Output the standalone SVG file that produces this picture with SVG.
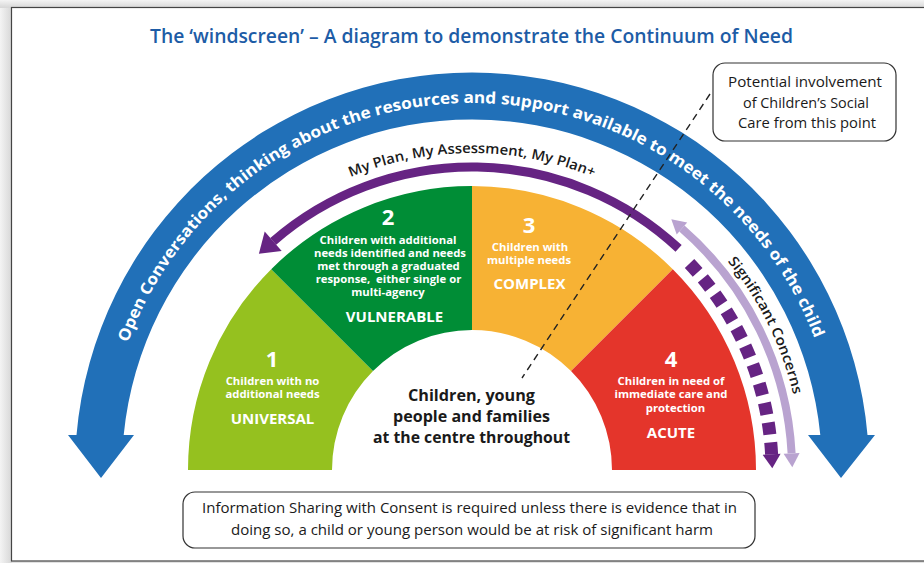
<svg xmlns="http://www.w3.org/2000/svg" width="924" height="563" viewBox="0 0 924 563">
<defs>
<linearGradient id="shL" x1="0" y1="0" x2="1" y2="0"><stop offset="0" stop-color="#f4f4f4"/><stop offset="1" stop-color="#d6d6d6"/></linearGradient>
<linearGradient id="shT" x1="0" y1="0" x2="0" y2="1"><stop offset="0" stop-color="#f4f4f4"/><stop offset="1" stop-color="#d6d6d6"/></linearGradient>
<path id="pBlue" d="M 105 470 A 367 367 0 0 1 839 470"/>
<path id="pPlan" d="M 155 470 A 317 317 0 0 1 789 470"/>
<path id="pSig" d="M 637 184.2 A 330 330 0 0 1 802 470"/>
</defs>
<style>
.w{fill:#fff;font-family:"Open Sans","Liberation Sans",sans-serif;font-weight:700;text-anchor:middle}
.num{font-size:22px}
.d{font-size:11.3px}
.cap{font-size:15px}
.k{fill:#1a1a1a;font-family:"Open Sans","Liberation Sans",sans-serif;text-anchor:middle}
.box{fill:#fff;stroke:#333;stroke-width:1.2}
</style>
<rect x="0" y="0" width="924" height="563" fill="#e2e2e2"/>
<rect x="0" y="0" width="12" height="563" fill="url(#shL)"/>
<rect x="0" y="0" width="924" height="8" fill="url(#shT)"/>
<rect x="11.5" y="7.5" width="930" height="553.5" fill="#fff" stroke="#444" stroke-width="1.2"/>

<text x="471.5" y="43" fill="#1d5ca6" font-family="'Open Sans','Liberation Sans',sans-serif" font-weight="600" font-size="19.5" text-anchor="middle" textLength="643" lengthAdjust="spacingAndGlyphs">The ‘windscreen’ – A diagram to demonstrate the Continuum of Need</text>

<g id="connectors">
<g id="blue-arrow">
<path d="M 76.5 435 A 397 397 0 0 1 867.5 435 L 875 435 L 841 478 L 808 435 L 820.3 435 A 350 350 0 0 0 123.7 435 L 134 435 L 101 478 L 68 435 Z" fill="#2170b8"/>
<text class="w" font-size="16"><textPath href="#pBlue" startOffset="49.8%" textLength="888" lengthAdjust="spacingAndGlyphs">Open Conversations, thinking about the resources and support available to meet the needs of the child</textPath></text>
</g>
</g>

<g id="sector-1">
<path d="M 188 470 A 284 284 0 0 1 271.2 269.2 L 373 371 A 140 140 0 0 0 332 470 Z" fill="#95c11f"/>
<text class="w num" x="272" y="367">1</text>
<text class="w d" x="272.5" y="385">Children with no</text>
<text class="w d" x="272.5" y="398">additional needs</text>
<text class="w cap" x="272.5" y="424">UNIVERSAL</text>
</g>
<g id="sector-2">
<path d="M 271.2 269.2 A 284 284 0 0 1 472 186 L 472 330 A 140 140 0 0 0 373 371 Z" fill="#008d36"/>
<text class="w num" x="388" y="225">2</text>
<text class="w d" x="388" y="244">Children with additional</text>
<text class="w d" x="390" y="257">needs identified and needs</text>
<text class="w d" x="388.5" y="270">met through a graduated</text>
<text class="w d" x="388.5" y="283" xml:space="preserve">response,  either single or</text>
<text class="w d" x="388" y="296">multi-agency</text>
<text class="w cap" x="394.5" y="322">VULNERABLE</text>
</g>
<g id="sector-3">
<path d="M 472 186 A 284 284 0 0 1 672.8 269.2 L 571 371 A 140 140 0 0 0 472 330 Z" fill="#f7b234"/>
<text class="w num" x="529" y="233">3</text>
<text class="w d" x="530" y="251">Children with</text>
<text class="w d" x="529" y="264">multiple needs</text>
<text class="w cap" x="529.5" y="289">COMPLEX</text>
</g>
<g id="sector-4">
<path d="M 672.8 269.2 A 284 284 0 0 1 756 470 L 612 470 A 140 140 0 0 0 571 371 Z" fill="#e4352b"/>
<text class="w num" x="671" y="367">4</text>
<text class="w d" x="671" y="385">Children in need of</text>
<text class="w d" x="671" y="398">immediate care and</text>
<text class="w d" x="675.5" y="412">protection</text>
<text class="w cap" x="671" y="438">ACUTE</text>
</g>
<g id="centre">
<text class="k" font-weight="700" font-size="16" x="471.5" y="401" textLength="127" lengthAdjust="spacingAndGlyphs">Children, young</text>
<text class="k" font-weight="700" font-size="16" x="471.5" y="422" textLength="157" lengthAdjust="spacingAndGlyphs">people and families</text>
<text class="k" font-weight="700" font-size="16" x="471.5" y="443" textLength="197" lengthAdjust="spacingAndGlyphs">at the centre throughout</text>
</g>

<g id="connectors-2">
<g id="plan-arrow">
<path d="M 678.6 248.4 A 303 303 0 0 0 273.2 241.3" fill="none" stroke="#662483" stroke-width="9"/>
<polygon points="264.7,231.5 258.9,253.8 281.7,251.1" fill="#662483"/>
<path d="M 771.6 454.3 A 300 300 0 0 0 684.1 257.9" fill="none" stroke="#662483" stroke-width="13" stroke-dasharray="12 8"/>
<polygon points="780.6,453.8 772.3,468.3 762.6,454.8" fill="#662483"/>
<text class="k" font-weight="600" font-size="14"><textPath href="#pPlan" startOffset="50%" textLength="249" lengthAdjust="spacingAndGlyphs">My Plan, My Assessment, My Plan+</textPath></text>
</g>
<g id="concerns-arrow">
<path d="M 791.6 453.3 A 320 320 0 0 0 681.9 228.5" fill="none" stroke="#b9a3d0" stroke-width="8"/>
<polygon points="799.6,452.9 792.3,467.3 783.6,453.7" fill="#b9a3d0"/>
<polygon points="687.2,222.5 671.3,219.3 676.7,234.5" fill="#b9a3d0"/>
<text class="k" font-weight="600" font-size="14"><textPath href="#pSig" startOffset="56.3%" textLength="150" lengthAdjust="spacingAndGlyphs">Significant Concerns</textPath></text>
</g>
<line id="threshold-line" x1="710" y1="94" x2="522" y2="378" stroke="#222" stroke-width="1.4" stroke-dasharray="7 5"/>
</g>

<g id="social-care-box">
<rect class="box" x="713" y="63" width="183" height="78" rx="12"/>
<text class="k" font-size="15" x="805" y="87" textLength="154" lengthAdjust="spacingAndGlyphs">Potential involvement</text>
<text class="k" font-size="15" x="806" y="108" textLength="126" lengthAdjust="spacingAndGlyphs">of Children’s Social</text>
<text class="k" font-size="15" x="807" y="128" textLength="138" lengthAdjust="spacingAndGlyphs">Care from this point</text>
</g>

<g id="info-box">
<rect class="box" x="183" y="492" width="572" height="56" rx="12"/>
<text class="k" font-size="14.5" x="469.5" y="513" textLength="535" lengthAdjust="spacingAndGlyphs">Information Sharing with Consent is required unless there is evidence that in</text>
<text class="k" font-size="14.5" x="472" y="535" textLength="482" lengthAdjust="spacingAndGlyphs">doing so, a child or young person would be at risk of significant harm</text>
</g>
</svg>
